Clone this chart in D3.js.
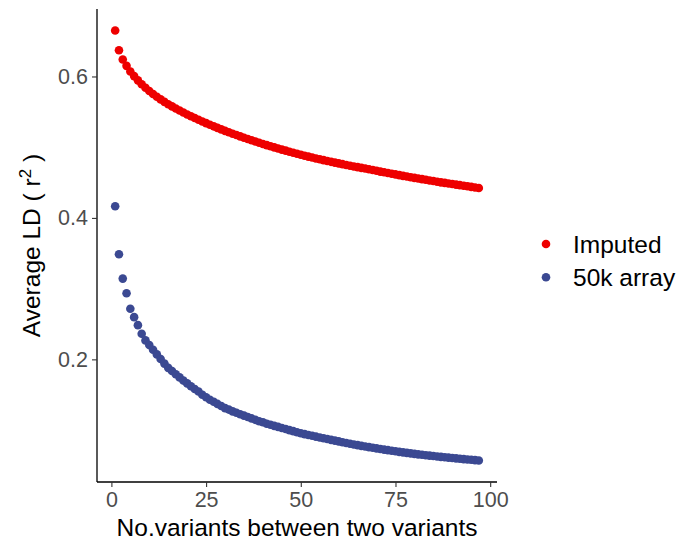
<!DOCTYPE html>
<html>
<head>
<meta charset="utf-8">
<script src="https://cdn.jsdelivr.net/npm/d3@7"></script>
<style>
  html, body { margin: 0; padding: 0; background: #fff; }
  #chart { width: 678px; height: 547px; }
  text { font-family: "Liberation Sans", Arial, Helvetica, sans-serif; }
</style>
</head>
<body>
<div id="chart"></div>
<script>
/* =====================================================
 * DATOS
 * ===================================================== */
const seriesNames = ["Imputed", "50k array"];

// número de variantes entre dos variantes (1..97)
const variantsBetween = d3.range(1, 98);

const imputedLD = [
  0.665, 0.637, 0.624, 0.615, 0.607, 0.6005, 0.5945, 0.589, 0.584, 0.5795,
  0.5753, 0.5713, 0.5676, 0.5641, 0.5608, 0.5577, 0.5547, 0.5518, 0.549, 0.5463,
  0.5437, 0.5412, 0.5387, 0.5363, 0.534, 0.5317, 0.5295, 0.5273, 0.5252, 0.5231,
  0.5211, 0.5191, 0.5172, 0.5153, 0.5134, 0.5116, 0.5098, 0.508, 0.5063, 0.5046,
  0.5029, 0.5013, 0.4997, 0.4981, 0.4966, 0.4951, 0.4936, 0.4921, 0.4907, 0.4893,
  0.488, 0.4867, 0.4854, 0.4841, 0.4829, 0.4817, 0.4805, 0.4793, 0.4782, 0.4771,
  0.476, 0.4749, 0.4738, 0.4728, 0.4718, 0.4708, 0.4698, 0.4688, 0.4677, 0.4666,
  0.4655, 0.4645, 0.4635, 0.4625, 0.4615, 0.4605, 0.4595, 0.4585, 0.4575, 0.4566,
  0.4557, 0.4548, 0.4539, 0.453, 0.4521, 0.4512, 0.4503, 0.4495, 0.4487, 0.4479,
  0.4471, 0.4463, 0.4455, 0.4447, 0.4439, 0.4431, 0.4423
];

const arrayLD = [
  0.4165, 0.3487, 0.3142, 0.2935, 0.2715, 0.2597, 0.2484, 0.2362, 0.2268, 0.2202,
  0.2135, 0.207, 0.2005, 0.194, 0.188, 0.1835, 0.179, 0.1745, 0.170, 0.166,
  0.162, 0.158, 0.1545, 0.150, 0.1465, 0.143, 0.140, 0.137, 0.134, 0.131,
  0.129, 0.1265, 0.1245, 0.1225, 0.1205, 0.1185, 0.1165, 0.1145, 0.1125, 0.111,
  0.109, 0.1075, 0.106, 0.1045, 0.103, 0.1015, 0.100, 0.0985, 0.097, 0.0955,
  0.0943, 0.0931, 0.0919, 0.0907, 0.0895, 0.0884, 0.0873, 0.0862, 0.0851, 0.084,
  0.0829, 0.0818, 0.0807, 0.0797, 0.0787, 0.0777, 0.0768, 0.0759, 0.075, 0.0741,
  0.0732, 0.0724, 0.0716, 0.0708, 0.070, 0.0692, 0.0685, 0.0678, 0.0671, 0.0664,
  0.0657, 0.0651, 0.0645, 0.0639, 0.0633, 0.0627, 0.0621, 0.0615, 0.061, 0.0605,
  0.060, 0.0595, 0.059, 0.0585, 0.058, 0.0575, 0.057
];

const xTicks = [0, 25, 50, 75, 100];
const yTicks = [0.2, 0.4, 0.6];

/* =====================================================
 * CONFIG — tamaños y estilos
 * ===================================================== */
const width = 678, height = 547;
const panel = { left: 97, right: 497, top: 9, bottom: 482 };
const COLORS = { "Imputed": "#EE0000", "50k array": "#3B4992" };
const POINT_R = 4.3;

const svg = d3.select("#chart")
  .append("svg")
  .attr("width", width)
  .attr("height", height);

// Escalas con la expansión del 5% (estilo ggplot)
function expand(ext, f = 0.05) {
  const d = (ext[1] - ext[0]) * f;
  return [ext[0] - d, ext[1] + d];
}

const x = d3.scaleLinear()
  .domain(expand(d3.extent(variantsBetween)))
  .range([panel.left, panel.right]);

const y = d3.scaleLinear()
  .domain(expand(d3.extent(imputedLD.concat(arrayLD))))
  .range([panel.bottom, panel.top]);

/* =====================================================
 * EJES
 * ===================================================== */
const xAxis = svg.append("g")
  .attr("transform", `translate(0,${panel.bottom})`)
  .call(d3.axisBottom(x).tickValues(xTicks).tickSize(5).tickPadding(5).tickSizeOuter(0));

const yAxis = svg.append("g")
  .attr("transform", `translate(${panel.left},0)`)
  .call(d3.axisLeft(y).tickValues(yTicks).tickFormat(d3.format(".1f")).tickSize(5).tickPadding(4).tickSizeOuter(0));

[xAxis, yAxis].forEach(g => {
  g.select(".domain").attr("stroke", "#000").attr("stroke-width", 1.3);
  g.selectAll(".tick line").attr("stroke", "#333").attr("stroke-width", 1.1);
  g.selectAll(".tick text")
    .attr("fill", "#4D4D4D")
    .style("font-size", "21.5px")
    .style("font-family", "'Liberation Sans', Arial, sans-serif");
});

// la línea del eje x arranca en el eje y
xAxis.select(".domain").attr("d", `M${panel.left},0H${panel.right}`);
yAxis.select(".domain").attr("d", `M0,${panel.top}V${panel.bottom}`);

// Títulos
svg.append("text")
  .attr("x", (panel.left + panel.right) / 2)
  .attr("y", 536)
  .attr("text-anchor", "middle")
  .style("font-size", "24.5px")
  .attr("fill", "#000")
  .text("No.variants between two variants");

const yTitle = svg.append("text")
  .attr("transform", `translate(40,${(panel.top + panel.bottom) / 2}) rotate(-90)`)
  .attr("text-anchor", "middle")
  .style("font-size", "24.5px")
  .attr("fill", "#000");
yTitle.append("tspan").text("Average LD ( r");
yTitle.append("tspan").attr("dy", -9).style("font-size", "17px").text("2");
yTitle.append("tspan").attr("dy", 9).text(" )");

/* =====================================================
 * PUNTOS
 * ===================================================== */
const series = [
  { name: seriesNames[0], values: imputedLD },
  { name: seriesNames[1], values: arrayLD }
];

svg.append("g")
  .selectAll("g")
  .data(series)
  .enter()
  .append("g")
  .attr("fill", d => COLORS[d.name])
  .selectAll("circle")
  .data(d => d.values.map((v, i) => ({ x: variantsBetween[i], y: v })))
  .enter()
  .append("circle")
  .attr("cx", d => x(d.x))
  .attr("cy", d => y(d.y))
  .attr("r", POINT_R);

/* =====================================================
 * LEYENDA
 * ===================================================== */
const legend = svg.append("g").attr("transform", "translate(546,244)");
const items = legend.selectAll("g")
  .data(seriesNames)
  .enter()
  .append("g")
  .attr("transform", (d, i) => `translate(0,${i * 33.3})`);

items.append("circle")
  .attr("r", POINT_R)
  .attr("fill", d => COLORS[d]);

items.append("text")
  .attr("x", 27)
  .attr("y", 8.7)
  .style("font-size", "24.5px")
  .attr("fill", "#000")
  .text(d => d);
</script>
</body>
</html>
